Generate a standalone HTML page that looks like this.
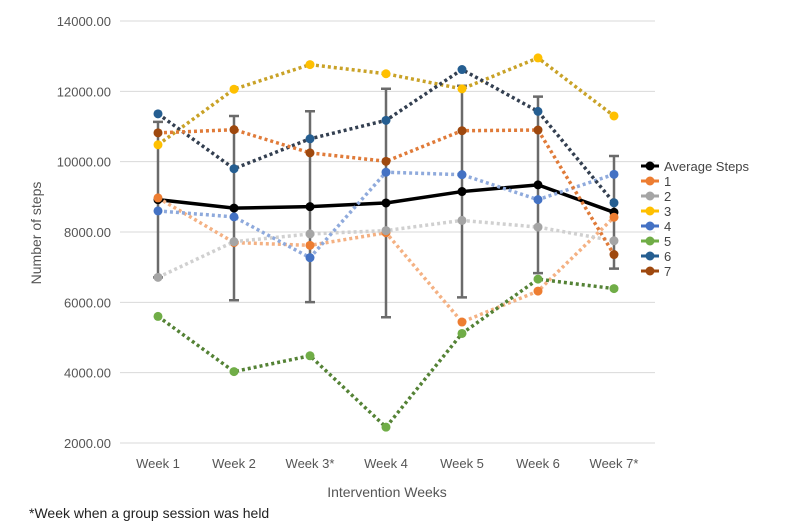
<!DOCTYPE html>
<html><head><meta charset="utf-8"><style>
body{margin:0;background:#fff;}
svg{display:block;font-family:"Liberation Sans",sans-serif;}
</style></head><body>
<svg id="chart" width="800" height="527">
<g id="grid"></g><g id="ylabels"></g><g id="xlabels"></g><g id="errs"></g><g id="series"></g><g id="legend"></g>
<text x="387" y="497" font-size="14" fill="#555" text-anchor="middle">Intervention Weeks</text>
<text transform="translate(41,233) rotate(-90)" font-size="14" fill="#555" text-anchor="middle">Number of steps</text>
<text x="29" y="518" font-size="14" fill="#222">*Week when a group session was held</text>
</svg>
<script>
const categories=["Week 1","Week 2","Week 3*","Week 4","Week 5","Week 6","Week 7*"];
const yTicks=[2000,4000,6000,8000,10000,12000,14000];
const avg=[8920,8680,8720,8825,9150,9340,8560];
const sd=[2210,2620,2715,3250,3010,2510,1600];
const s1=[8970,7700,7620,7980,5440,6320,8420];
const s2=[6710,7725,7945,8040,8330,8140,7750];
const s3=[10480,12060,12760,12500,12070,12950,11300];
const s4=[8600,8430,7270,9700,9630,8920,9640];
const s5=[5600,4030,4480,2450,5115,6660,6390];
const s6=[11360,9800,10650,11175,12620,11430,8830];
const s7=[10820,10910,10250,10010,10880,10900,7360];
const names=["Average Steps","1","2","3","4","5","6","7"];
const NS="http://www.w3.org/2000/svg";
const X0=158,DX=76,Y2=443,Y14=21;
const x=i=>X0+i*DX;
const y=v=>Y2-(v-2000)/12000*(Y2-Y14);
function mk(p,t,a){const e=document.createElementNS(NS,t);for(const k in a)e.setAttribute(k,a[k]);document.getElementById(p).appendChild(e);return e;}
yTicks.forEach(v=>{
 const l=mk("grid","line",{x1:120,x2:655,y1:y(v),y2:y(v),stroke:"#d9d9d9","stroke-width":1});
 
 
 const t=mk("ylabels","text",{x:111,y:y(v)+5,"font-size":13,fill:"#555","text-anchor":"end"});
 t.textContent=v.toFixed(2);
 
 
});
categories.forEach((c,i)=>{
 const t=mk("xlabels","text",{x:x(i),y:468,"font-size":13,fill:"#555","text-anchor":"middle"});
 t.textContent=c;
 
 
});
avg.forEach((v,i)=>{
 const g=mk("errs","path",{d:`M${x(i)},${y(v+sd[i])}V${y(v-sd[i])}M${x(i)-5},${y(v+sd[i])}h10M${x(i)-5},${y(v-sd[i])}h10`,stroke:"#6b6b6b","stroke-width":2.5,fill:"none"});
 
 
});
const series=[
 {d:s1,line:"#f4b183",mk:"#ED7D31"},
 {d:s2,line:"#d0d0d0",mk:"#A5A5A5"},
 {d:s3,line:"#c9a227",mk:"#FFC000"},
 {d:s4,line:"#8faadc",mk:"#4472C4"},
 {d:s5,line:"#548235",mk:"#70AD47"},
 {d:s6,line:"#333f50",mk:"#255E91"},
 {d:s7,line:"#e07b39",mk:"#9E480E"}
];
function draw(d,line,mc,dash,w,r,name){
 const p=mk("series","polyline",{points:d.map((v,i)=>x(i)+","+y(v)).join(" "),fill:"none",stroke:line,"stroke-width":w,"stroke-dasharray":dash});
 
 
 d.forEach((v,i)=>{
  const c=mk("series","circle",{cx:x(i),cy:y(v),r:r,fill:mc});
  
  
 });
}
draw(avg,"#000","#000","none",3.5,4.5,"average-steps");
series.forEach((s,k)=>draw(s.d,s.line,s.mk,"3,3",3.5,4.5,"series-"+(k+1)));
names.forEach((n,k)=>{
 const yy=166+k*15;
 const col=k==0?"#000":series[k-1].mk;
 const l=mk("legend","line",{x1:641,x2:659,y1:yy,y2:yy,stroke:col,"stroke-width":3});
 
 
 const c=mk("legend","circle",{cx:650,cy:yy,r:4.5,fill:col});
 
 
 const t=mk("legend","text",{x:664,y:yy+5,"font-size":13,fill:"#444"});
 t.textContent=n;
 
 
});
</script>
</body></html>
